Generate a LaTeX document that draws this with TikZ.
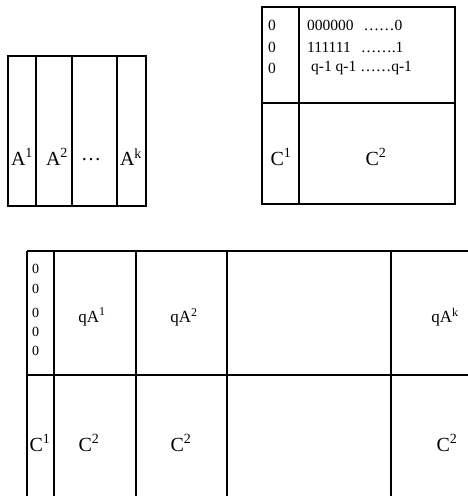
\documentclass[tikz,border=0pt]{standalone}
\usepackage{fontspec}
\setmainfont{Liberation Serif}
\newcommand{\sq}[1]{\textsuperscript{#1}}

\begin{document}
\begin{tikzpicture}[x=1pt,y=-1pt]
\useasboundingbox (0,0) rectangle (468,496);
\clip (0,0) rectangle (468,496);
\tikzset{rule/.style={black, line width=1.3pt},
  big/.style={font=\fontsize{20}{24}\selectfont},
  mid/.style={font=\fontsize{17}{20}\selectfont},
  small/.style={font=\fontsize{15.5}{21.5}\selectfont, anchor=west, inner sep=0pt}}
% A^1 ... A^k
\draw[rule] (8,56) rectangle (146,206);
\draw[rule] (36,56) -- (36,206);
\draw[rule] (72,56) -- (72,206);
\draw[rule] (117,56) -- (117,206);
\node[big] (a1) at (22,157) {A\sq{1}};
\node[big] (a2) at (57,157) {A\sq{2}};
\node[big] (adots) at (91,160) {\ldots};
\node[big] (ak) at (131,157) {A\sq{k}};
% C^1 C^2 with rows
\draw[rule] (262,7) rectangle (455,204);
\draw[rule] (299,7) -- (299,204);
\draw[rule] (262,103) -- (455,103);
\node[small] (z1) at (268,25) {0};
\node[small] (z2) at (268,47) {0};
\node[small] (z3) at (268,68) {0};
\node[small] (r1) at (307,25) {000000\hspace{10pt}……0};
\node[small] (r2) at (307,47) {111111\hspace{10pt}…….1};
\node[small] (r3) at (311,68) {q-1 q-1 ……q-1};
\node[big] (c1) at (281,157) {C\sq{1}};
\node[big] (c2) at (376,157) {C\sq{2}};
% qA^1 ... qA^k
\draw[rule] (27,251) -- (475,251);
\draw[rule] (27,375) -- (475,375);
\draw[rule] (27,251) -- (27,505);
\draw[rule] (54,251) -- (54,505);
\draw[rule] (136,251) -- (136,505);
\draw[rule] (227,251) -- (227,505);
\draw[rule] (391,251) -- (391,505);
\node[small, font=\fontsize{14}{18}\selectfont] (b1) at (32,269) {0};
\node[small, font=\fontsize{14}{18}\selectfont] (b2) at (32,289) {0};
\node[small, font=\fontsize{14}{18}\selectfont] (b3) at (32,313) {0};
\node[small, font=\fontsize{14}{18}\selectfont] (b4) at (32,332) {0};
\node[small, font=\fontsize{14}{18}\selectfont] (b5) at (32,351) {0};
\node[mid] (qa1) at (92,317) {qA\sq{1}};
\node[mid] (qa2) at (184,317) {qA\sq{2}};
\node[mid] (qak) at (445,317) {qA\sq{k}};
\node[big] (d1) at (40,443) {C\sq{1}};
\node[big] (d2) at (89,443) {C\sq{2}};
\node[big] (d3) at (181,443) {C\sq{2}};
\node[big] (d4) at (447,443) {C\sq{2}};
\end{tikzpicture}
\end{document}
